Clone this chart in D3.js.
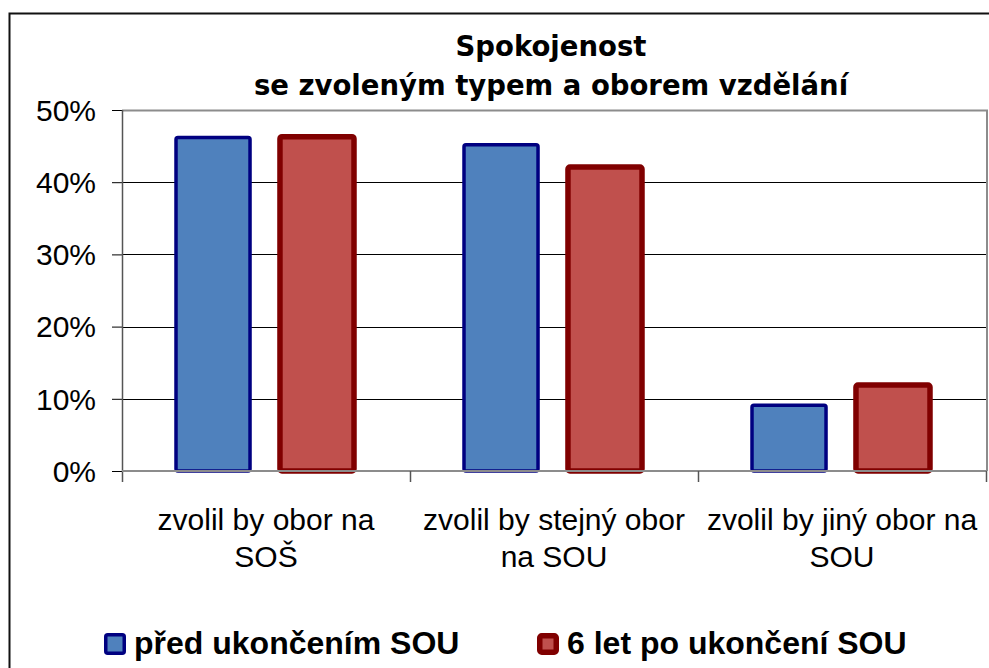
<!DOCTYPE html>
<html lang="cs">
<head>
<meta charset="UTF-8">
<title>Spokojenost se zvoleným typem a oborem vzdělání</title>
<script src="https://d3js.org/d3.v7.min.js"></script>
<style>
    body { margin: 0; background: #fff; }
    svg { display: block; }
    .tick-label { font-family: "Liberation Sans", Arial, sans-serif; font-size: 30px; fill: #000; }
    .cat-label { font-family: "Liberation Sans", Arial, sans-serif; font-size: 30px; fill: #000; }
    .title { font-family: "DejaVu Sans", Verdana, sans-serif; font-size: 27.5px; font-weight: bold; fill: #000; }
    .legend-label { font-family: "Liberation Sans", Arial, sans-serif; font-size: 32px; font-weight: bold; fill: #000; }
</style>
</head>
<body>
<div id="chart"></div>
<script>
// data
const categories = [
    ["zvolil by obor na", "SOŠ"],
    ["zvolil by stejný obor", "na SOU"],
    ["zvolil by jiný obor na", "SOU"]
];
const seriesNames = ["před ukončením SOU", "6 let po ukončení SOU"];
const before = [46.2, 45.2, 9.1];
const after = [46.3, 42.1, 11.9];
const yTicks = [0, 10, 20, 30, 40, 50];
const titleLines = ["Spokojenost", "se zvoleným typem a oborem vzdělání"];

const W = 989, H = 668;
const plot = { left: 122, right: 987, top: 110, bottom: 471 };

const fills = ["#4F81BD", "#C0504D"];
const strokes = ["#000080", "#800000"];
const strokeW = [3.5, 5.5];

const svg = d3.select("#chart").append("svg")
    .attr("width", W)
    .attr("height", H);

svg.append("rect").attr("width", W).attr("height", H).attr("fill", "#fff");

// outer chart frame (runs off the picture at right and bottom)
svg.append("rect")
    .attr("x", 9.5).attr("y", 13.5)
    .attr("width", 1000).attr("height", 700)
    .attr("fill", "none")
    .attr("stroke", "#111")
    .attr("stroke-width", 2);

const catKeys = categories.map(c => c.join(" "));

const x0 = d3.scaleBand()
    .domain(catKeys)
    .range([plot.left, plot.right - 1])
    .padding(0);

const x1 = d3.scaleBand()
    .domain(seriesNames)
    .range([54, 232])
    .paddingInner(0.288);

const y = d3.scaleLinear()
    .domain([0, 50])
    .range([plot.bottom, plot.top]);

// gridlines
svg.append("g")
    .selectAll("line")
    .data(yTicks.filter(t => t > 0 && t < 50))
    .join("line")
    .attr("x1", plot.left).attr("x2", plot.right)
    .attr("y1", d => Math.round(y(d)) + 0.5)
    .attr("y2", d => Math.round(y(d)) + 0.5)
    .attr("stroke", "#000")
    .attr("stroke-width", 1);

// plot area border (top + right)
svg.append("path")
    .attr("d", `M${plot.left},${plot.top + 0.5}H${plot.right}V${plot.bottom}`)
    .attr("fill", "none")
    .attr("stroke", "#8c8c8c")
    .attr("stroke-width", 2);

// y axis
const yAxis = svg.append("g")
    .attr("transform", `translate(${plot.left},0)`)
    .call(d3.axisLeft(y).tickValues(yTicks).tickSize(10).tickPadding(0).tickFormat(d => d + "%"));
yAxis.select(".domain").remove();
yAxis.selectAll(".tick line").attr("stroke", "#000");
yAxis.selectAll(".tick text").remove();

svg.append("line")
    .attr("x1", plot.left + 0.5).attr("x2", plot.left + 0.5)
    .attr("y1", plot.top).attr("y2", plot.bottom + 11)
    .attr("stroke", "#555")
    .attr("stroke-width", 1.5);

svg.append("g")
    .selectAll("text")
    .data(yTicks)
    .join("text")
    .attr("class", "tick-label")
    .attr("text-anchor", "end")
    .attr("x", 96)
    .attr("y", d => y(d))
    .attr("dy", "0.36em")
    .text(d => d + "%");

// bars
const groups = svg.append("g")
    .selectAll("g")
    .data(catKeys)
    .join("g")
    .attr("transform", d => `translate(${x0(d)},0)`);

groups.selectAll("rect")
    .data((d, i) => [before[i], after[i]].map((v, s) => ({ v, s })))
    .join("rect")
    .attr("x", d => x1(seriesNames[d.s]))
    .attr("width", x1.bandwidth())
    .attr("y", d => y(d.v))
    .attr("height", d => y(0) - y(d.v))
    .attr("rx", 2)
    .attr("fill", d => fills[d.s])
    .attr("stroke", d => strokes[d.s])
    .attr("stroke-width", d => strokeW[d.s]);

// x axis line + ticks
svg.append("line")
    .attr("x1", plot.left).attr("x2", plot.right)
    .attr("y1", plot.bottom).attr("y2", plot.bottom)
    .attr("stroke", "#8c8c8c")
    .attr("stroke-width", 2);

const xTickPos = catKeys.map(k => x0(k)).concat([plot.right - 1]);
svg.append("g")
    .selectAll("line")
    .data(xTickPos.slice(1))
    .join("line")
    .attr("x1", d => Math.round(d) + 0.5).attr("x2", d => Math.round(d) + 0.5)
    .attr("y1", plot.bottom).attr("y2", plot.bottom + 11)
    .attr("stroke", "#555")
    .attr("stroke-width", 1.5);

// category labels
const catG = svg.append("g")
    .selectAll("g")
    .data(categories)
    .join("g")
    .attr("transform", (d, i) => `translate(${x0(catKeys[i]) + x0.bandwidth() / 2},0)`);

catG.selectAll("text")
    .data(d => d)
    .join("text")
    .attr("class", "cat-label")
    .attr("text-anchor", "middle")
    .attr("y", (d, j) => 530 + j * 37)
    .text(d => d);

// title
svg.append("g")
    .selectAll("text")
    .data(titleLines)
    .join("text")
    .attr("class", "title")
    .attr("text-anchor", "middle")
    .attr("x", 551)
    .attr("y", (d, i) => 56 + i * 39)
    .text(d => d);

// legend
const legendX = [104, 537];
const legend = svg.append("g")
    .selectAll("g")
    .data(seriesNames)
    .join("g")
    .attr("transform", (d, i) => `translate(${legendX[i]},633)`);

legend.append("rect")
    .attr("x", (d, i) => strokeW[i] / 2)
    .attr("y", (d, i) => strokeW[i] / 2)
    .attr("width", (d, i) => 22 - strokeW[i])
    .attr("height", (d, i) => 22 - strokeW[i])
    .attr("rx", 2)
    .attr("fill", (d, i) => fills[i])
    .attr("stroke", (d, i) => strokes[i])
    .attr("stroke-width", (d, i) => strokeW[i]);

legend.append("text")
    .attr("class", "legend-label")
    .attr("x", 30)
    .attr("y", 21)
    .text(d => d);
</script>
</body>
</html>
